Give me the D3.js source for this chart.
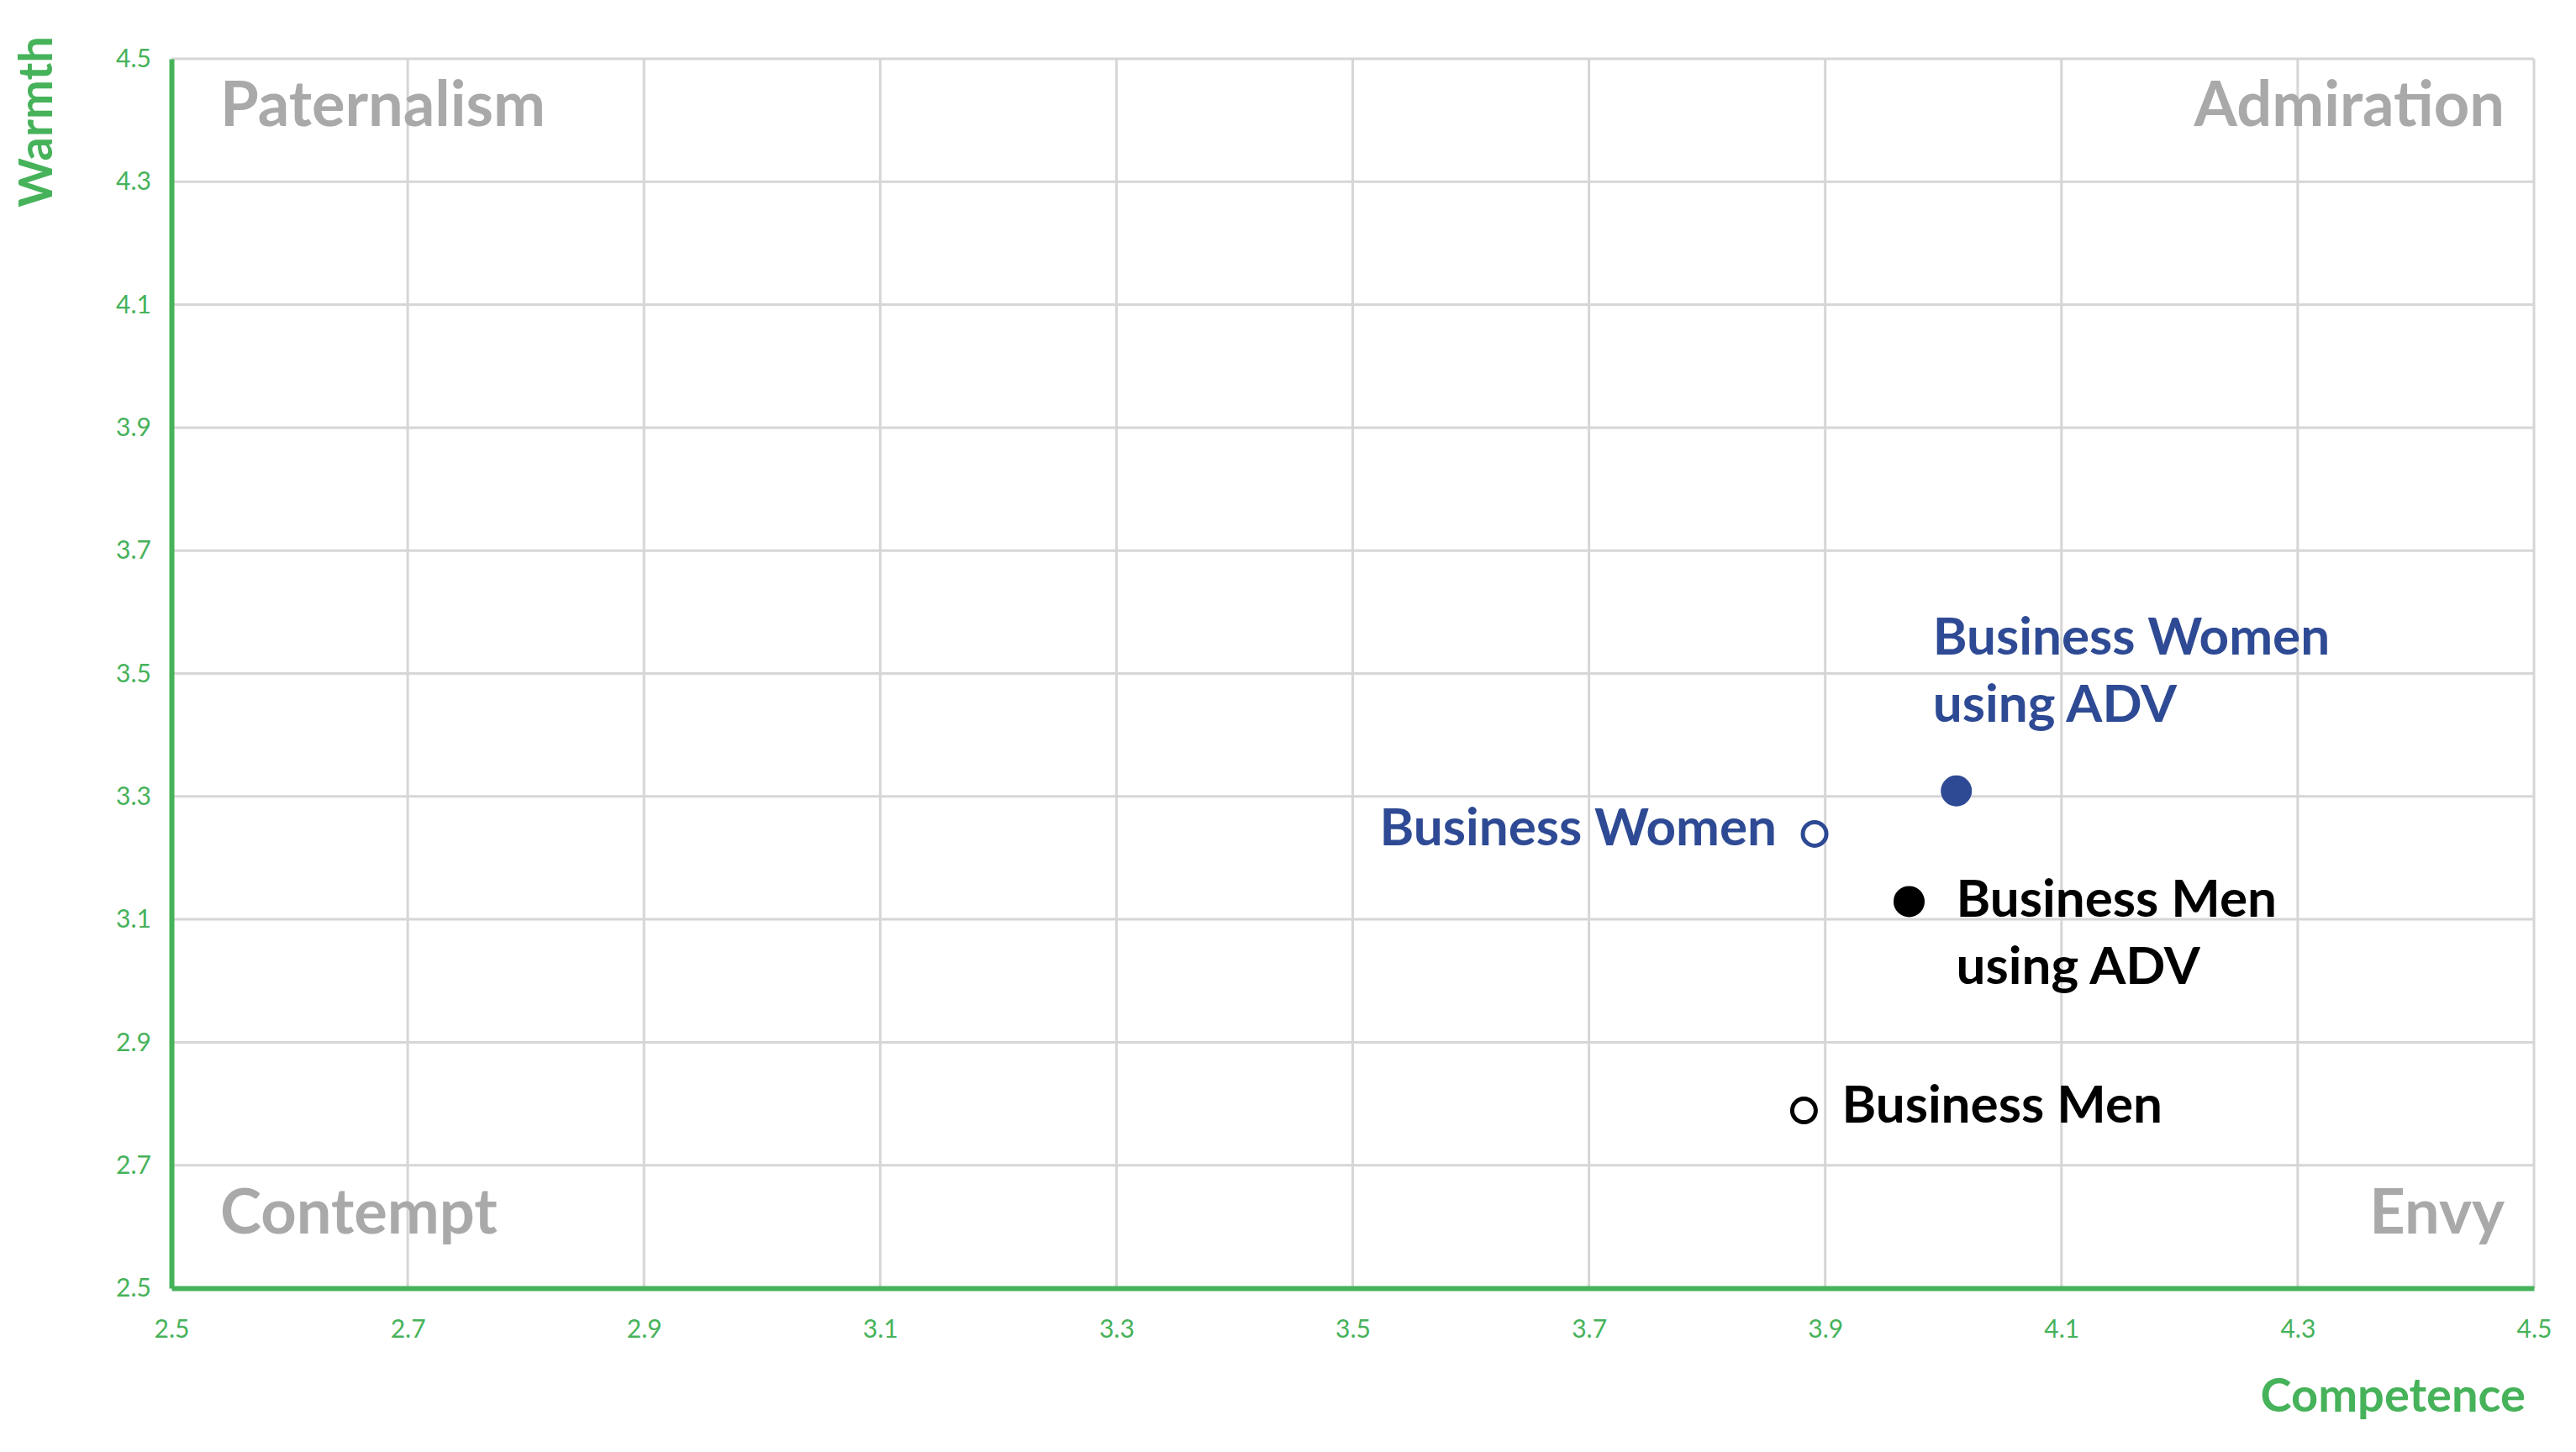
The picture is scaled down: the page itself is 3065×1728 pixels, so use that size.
<!DOCTYPE html><html><head><meta charset="utf-8"><script src="https://cdn.jsdelivr.net/npm/d3@7"></script>
<style>body{margin:0;background:#fff}text{font-family:Lato,"Open Sans",sans-serif}</style></head><body>
<script>
const names=["Business Women","Business Women using ADV","Business Men using ADV","Business Men"];
const competence=[3.891,4.011,3.971,3.882];
const warmth=[3.239,3.309,3.129,2.789];
const filled=[false,true,true,false];
const colors=["#2e4a94","#2e4a94","#000","#000"];
const ticks=[2.5,2.7,2.9,3.1,3.3,3.5,3.7,3.9,4.1,4.3,4.5];
const quadrants=["Paternalism","Admiration","Contempt","Envy"];
const W=3065,H=1728,green="#46b25a";
const svg=d3.select("body").append("svg").attr("width",W).attr("height",H);
const x=d3.scaleLinear().domain([2.5,4.5]).range([204,3015]);
const y=d3.scaleLinear().domain([2.5,4.5]).range([1533,70]);
const g=svg.append("g");
g.selectAll(".vx").data(ticks.slice(1)).join("line").attr("x1",d=>x(d)).attr("x2",d=>x(d)).attr("y1",y(4.5)).attr("y2",y(2.5)).attr("stroke","#d6d6d6").attr("stroke-width",3);
g.selectAll(".hy").data(ticks.slice(1)).join("line").attr("y1",d=>y(d)).attr("y2",d=>y(d)).attr("x1",x(2.5)).attr("x2",x(4.5)).attr("stroke","#d6d6d6").attr("stroke-width",3);
const xa=svg.append("g").attr("transform",`translate(0,${y(2.5)})`).call(d3.axisBottom(x).tickValues(ticks).tickFormat(d3.format(".1f")).tickSize(0).tickPadding(38));
const ya=svg.append("g").attr("transform",`translate(${x(2.5)},0)`).call(d3.axisLeft(y).tickValues(ticks).tickFormat(d3.format(".1f")).tickSize(0).tickPadding(38));
[xa,ya].forEach(a=>{a.select(".domain").attr("stroke",green).attr("stroke-width",6);a.selectAll("text").attr("fill",green).attr("font-size",30).attr("font-family","Lato,sans-serif");});
ya.selectAll("text").attr("dx",14);
svg.append("text").text("Competence").attr("x",3005).attr("y",1680).attr("text-anchor","end").attr("fill",green).attr("font-size",56).attr("font-weight",700);
svg.append("text").text("Warmth").attr("transform","translate(62,145) rotate(-90)").attr("text-anchor","middle").attr("fill",green).attr("font-size",56).attr("font-weight",700);
const qp=[[262,150,"start"],[2980,150,"end"],[262,1468,"end"],[2980,1468,"end"]];
quadrants.forEach((q,i)=>svg.append("text").text(q).attr("x",qp[i][0]).attr("y",qp[i][1]).attr("text-anchor",i==0||i==2?"start":"end").attr("fill","#a9a9a9").attr("font-size",74).attr("font-weight",700));
svg.selectAll("circle").data(names).join("circle").attr("cx",(d,i)=>x(competence[i])).attr("cy",(d,i)=>y(warmth[i])).attr("r",(d,i)=>filled[i]?16:14).attr("fill",(d,i)=>filled[i]?colors[i]:"#fff").attr("stroke",(d,i)=>colors[i]).attr("stroke-width",5);
const lab=[[-45,14,"end",[names[0]]],[-28,-162,"start",["Business Women","using ADV"]],[56,18,"start",["Business Men","using ADV"]],[45,14,"start",[names[3]]]];
names.forEach((n,i)=>{const t=svg.append("text").attr("x",x(competence[i])+lab[i][0]).attr("y",y(warmth[i])+lab[i][1]).attr("text-anchor",lab[i][2]).attr("fill",colors[i]).attr("font-size",62).attr("font-weight",700);
lab[i][3].forEach((l,j)=>t.append("tspan").attr("x",x(competence[i])+lab[i][0]).attr("dy",j?80:0).text(l));});
</script></body></html>
